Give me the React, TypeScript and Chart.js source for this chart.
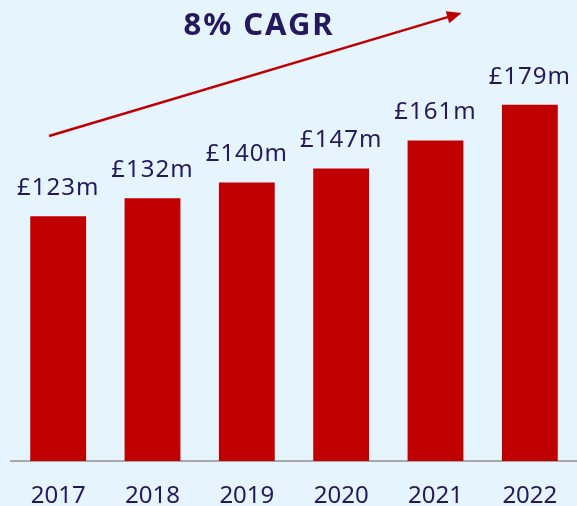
import React, { useEffect, useRef } from "react";
import { Chart, registerables } from "chart.js";

Chart.register(...registerables);

const years = ["2017", "2018", "2019", "2020", "2021", "2022"];
const revenue = [123, 132, 140, 147, 161, 179];
const valueLabels = ["£123m", "£132m", "£140m", "£147m", "£161m", "£179m"];
const headline = "8% CAGR";

const NAVY = "#24195c";
const RED = "#c00000";
const BG = "#e6f4fd";
const FONT = "'Noto Sans', sans-serif";

const overlayPlugin = {
  id: "overlay",
  afterDatasetsDraw(chart: any) {
    const ctx = chart.ctx;
    const meta = chart.getDatasetMeta(0);
    ctx.save();
    ctx.fillStyle = NAVY;
    ctx.font = `24px ${FONT}`;
    (ctx as any).letterSpacing = "1px";
    ctx.textAlign = "center";
    ctx.textBaseline = "middle";
    meta.data.forEach((bar: any, i: number) => {
      ctx.fillText(valueLabels[i], bar.x, bar.y - 28);
    });
    // headline
    const w = chart.width;
    ctx.font = `bold 31px ${FONT}`;
    (ctx as any).letterSpacing = "2px";
    ctx.fillText(headline, w * 0.449, 26);
    (ctx as any).letterSpacing = "0px";
    // arrow
    const x0 = w * 0.085, y0 = 136, x1 = w * 0.8, y1 = 13;
    ctx.strokeStyle = RED;
    ctx.fillStyle = RED;
    ctx.lineWidth = 2.5;
    const ang = Math.atan2(y1 - y0, x1 - x0);
    const hl = 16;
    ctx.beginPath();
    ctx.moveTo(x0, y0);
    ctx.lineTo(x1 - hl * 0.8 * Math.cos(ang), y1 - hl * 0.8 * Math.sin(ang));
    ctx.stroke();
    ctx.beginPath();
    ctx.moveTo(x1, y1);
    ctx.lineTo(x1 - hl * Math.cos(ang - 0.4), y1 - hl * Math.sin(ang - 0.4));
    ctx.lineTo(x1 - hl * Math.cos(ang + 0.4), y1 - hl * Math.sin(ang + 0.4));
    ctx.closePath();
    ctx.fill();
    ctx.restore();
  },
};

export default function App() {
  const ref = useRef<HTMLCanvasElement>(null);
  useEffect(() => {
    document.body.style.margin = "0";
    document.body.style.background = BG;
    const chart = new Chart(ref.current!, {
      type: "bar",
      data: {
        labels: years,
        datasets: [
          {
            data: revenue,
            backgroundColor: RED,
            categoryPercentage: 0.8,
            barPercentage: 0.74,
          },
        ],
      },
      options: {
        animation: false,
        responsive: false,
        layout: { padding: { top: 63, left: 11, right: 0, bottom: 0 } },
        plugins: { legend: { display: false }, tooltip: { enabled: false } },
        scales: {
          y: { display: false, min: 0, max: 200 },
          x: {
            grid: { display: false },
            border: { display: true, color: "#a8a8a8", width: 2 },
            ticks: {
              color: NAVY,
              font: { family: FONT, size: 24 },
              padding: 13,
            },
            afterFit: (scale: any) => {
              scale.height = 45;
            },
          },
        },
      },
      plugins: [overlayPlugin],
    });
    return () => chart.destroy();
  }, []);
  return (
    <div style={{ width: 577, height: 506, background: BG }}>
      <canvas ref={ref} width={577} height={506} />
    </div>
  );
}
